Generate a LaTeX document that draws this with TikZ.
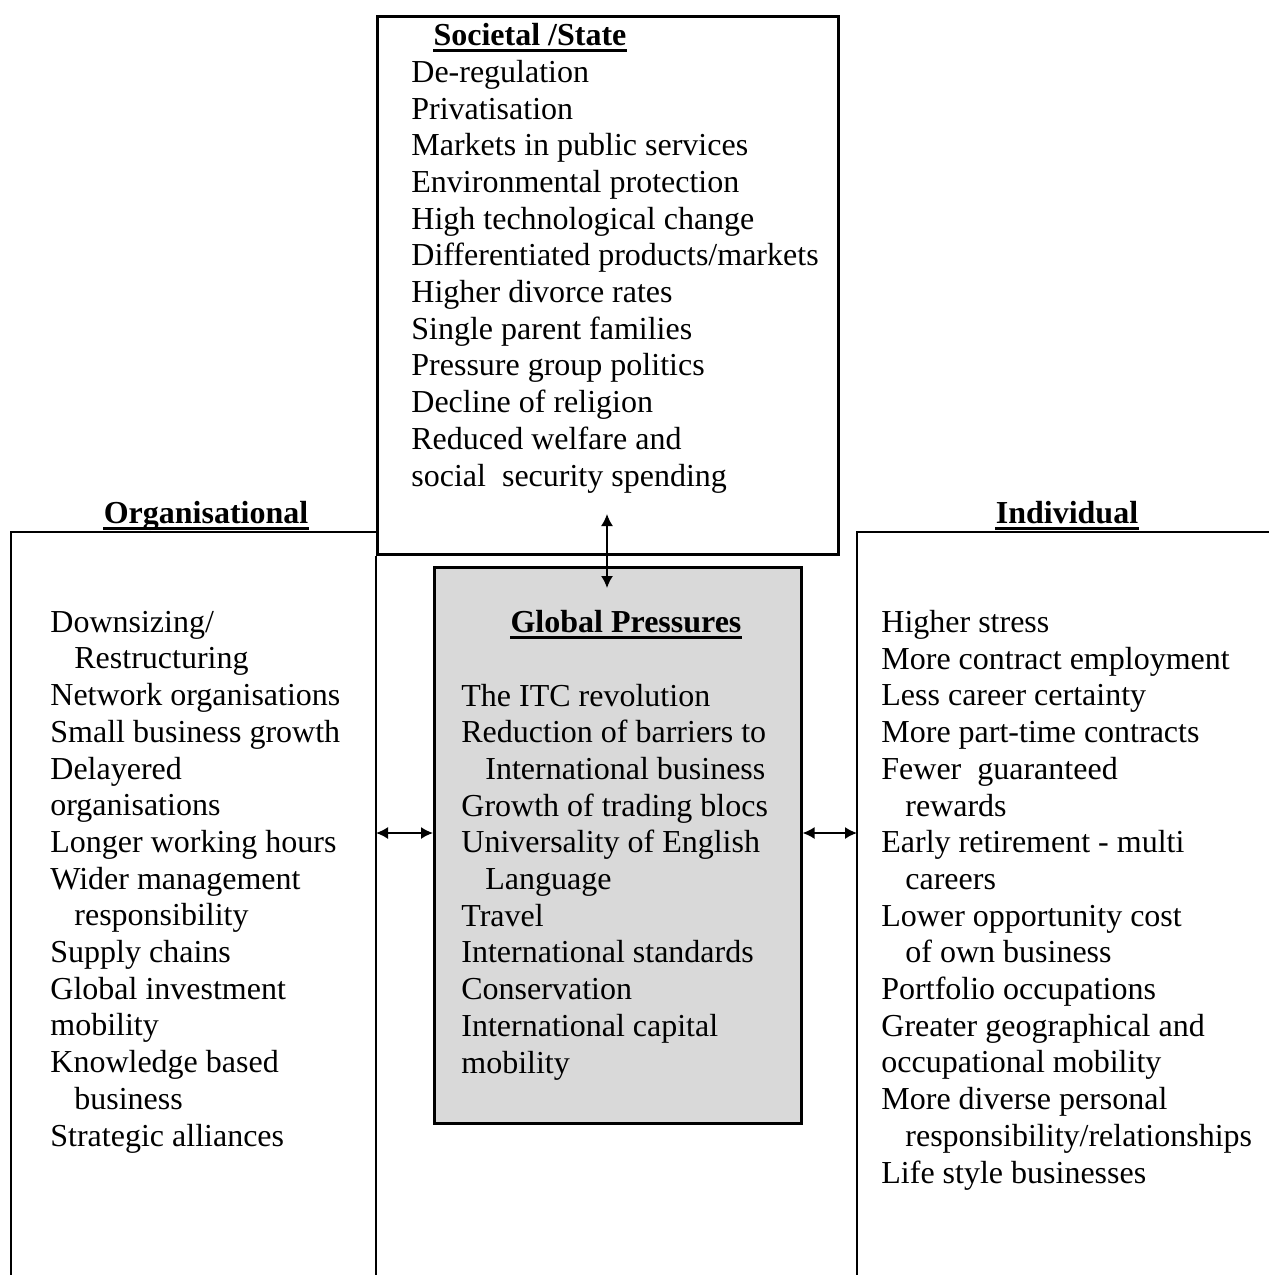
\documentclass[tikz,border=0pt]{standalone}
\usepackage{fontspec}
\setmainfont{Liberation Serif}
\usetikzlibrary{arrows.meta,positioning}
\definecolor{panel}{HTML}{D9D9D9}

\tikzset{
  frame/.style={line width=1.3pt},
  box/.style={draw, frame, inner sep=0pt, anchor=north west},
  items/.style={anchor=base west, inner sep=0pt, align=left,
    font=\fontsize{16}{18.35}\selectfont},
  heading/.style={anchor=base, inner sep=0pt,
    font=\fontsize{16}{18.35}\selectfont\bfseries},
  headrule/.style={line width=1.5pt},
  link/.style={{Latex[length=6pt,width=6pt]}-{Latex[length=6pt,width=6pt]}, line width=0.8pt}
}

\begin{document}
\begin{tikzpicture}[x=0.5pt,y=-0.5pt]
  \useasboundingbox (0,0) rectangle (1269,1275);

  % the three frames
  \node[box, minimum width=230.5pt, minimum height=269pt] (soc) at (376,15) {};
  \node[box, fill=panel, minimum width=183.5pt, minimum height=278pt] (gp) at (433,566) {};
  \coordinate (orgtop) at (11,532);
  \coordinate (indtop) at (857,532);
  \draw[frame] (11,1280) -- (orgtop) -- (orgtop -| soc.west);
  \draw[frame] (soc.south west) -- (376,1280);
  \draw[frame] (1275,532) -- (indtop) -- (857,1280);

  % headings
  \node[heading] (soctitle) at (530,45) {Societal /State};
  \node[heading] (orgtitle) at (206,523) {Organisational};
  \node[heading] (indtitle) at (1067,523) {Individual};
  \node[heading] (gptitle) at (626,632) {Global Pressures};
  \foreach \t in {soctitle,orgtitle,indtitle,gptitle}
    \draw[headrule] ([yshift=-2.75pt]\t.base west) -- ([yshift=-2.75pt]\t.base east);

  % lists (placed by the baseline of their last line)
  \node[items] (soclist) at (411,486) {De-regulation\\Privatisation\\
    Markets in public services\\Environmental protection\\
    High technological change\\Differentiated products/markets\\
    Higher divorce rates\\Single parent families\\
    Pressure group politics\\Decline of religion\\
    Reduced welfare and\\social\ \ security spending};
  \node[items] (orglist) at (50,1146) {Downsizing/\\
    \hspace*{12pt}Restructuring\\Network organisations\\
    Small business growth\\Delayered\\organisations\\
    Longer working hours\\Wider management\\
    \hspace*{12pt}responsibility\\Supply chains\\
    Global investment\\mobility\\Knowledge based\\
    \hspace*{12pt}business\\Strategic alliances};
  \node[items] (gplist) at (461,1073) {The ITC revolution\\
    Reduction of barriers to\\\hspace*{12pt}International business\\
    Growth of trading blocs\\Universality of English\\
    \hspace*{12pt}Language\\Travel\\International standards\\
    Conservation\\International capital\\mobility};
  \node[items] (indlist) at (881,1183) {Higher stress\\
    More contract employment\\Less career certainty\\
    More part-time contracts\\Fewer\ \ guaranteed\\
    \hspace*{12pt}rewards\\Early retirement - multi\\
    \hspace*{12pt}careers\\Lower opportunity cost\\
    \hspace*{12pt}of own business\\Portfolio occupations\\
    Greater geographical and\\occupational mobility\\
    More diverse personal\\
    \hspace*{12pt}responsibility/relationships\\Life style businesses};

  % arrows
  \coordinate (soctip) at (607,514);
  \coordinate (gptip) at (607,588);
  \coordinate (orgedge) at (376,833);
  \coordinate (indedge) at (857,833);
  \draw[link] (soctip) -- (gptip);
  \draw[link] (orgedge) -- (gp.west |- orgedge);
  \draw[link] (gp.east |- indedge) -- (indedge);
\end{tikzpicture}
\end{document}
